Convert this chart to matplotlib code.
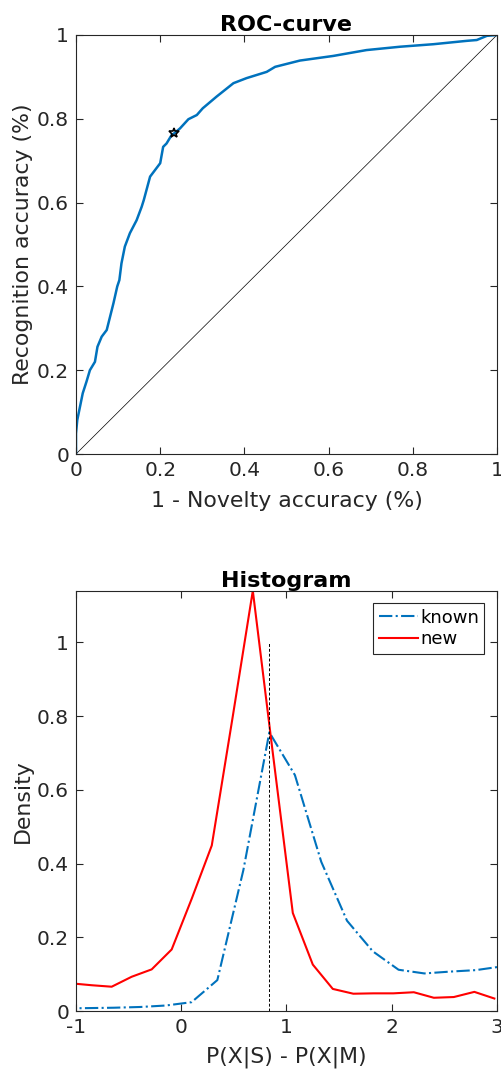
import matplotlib
matplotlib.use('Agg')
import matplotlib.pyplot as plt
from matplotlib.ticker import FuncFormatter

# ROC curve (false alarm rate vs recognition rate)
roc_fpr = [0.0, 0.0, 0.003, 0.0095, 0.016, 0.025, 0.033, 0.045, 0.051, 0.061, 0.073,
           0.089, 0.098, 0.103, 0.108, 0.116, 0.128, 0.144, 0.156, 0.161, 0.176,
           0.2, 0.207, 0.215, 0.227, 0.233, 0.247, 0.267, 0.287, 0.301, 0.334,
           0.374, 0.405, 0.453, 0.473, 0.532, 0.611, 0.69, 0.77, 0.849, 0.928,
           0.952, 0.976, 1.0]
roc_tpr = [0.0, 0.049, 0.081, 0.113, 0.145, 0.173, 0.2, 0.22, 0.256, 0.28, 0.296,
           0.36, 0.40, 0.415, 0.455, 0.495, 0.527, 0.558, 0.59, 0.606, 0.662,
           0.694, 0.733, 0.741, 0.761, 0.765, 0.777, 0.799, 0.809, 0.825, 0.853,
           0.885, 0.897, 0.912, 0.924, 0.939, 0.95, 0.964, 0.972, 0.978, 0.986,
           0.988, 0.998, 1.0]
op_point = (0.233, 0.765)

# histogram densities
known_x = [-1.125, -0.88, -0.64, -0.39, -0.147, 0.098, 0.343, 0.59, 0.837, 1.08,
           1.33, 1.575, 1.82, 2.065, 2.31, 2.555, 2.80, 3.045]
known_y = [0.007, 0.008, 0.009, 0.011, 0.015, 0.024, 0.084, 0.382, 0.756, 0.64,
           0.405, 0.245, 0.162, 0.112, 0.102, 0.107, 0.111, 0.121]
new_x = [-1.04, -0.851, -0.661, -0.471, -0.281, -0.091, 0.1, 0.29, 0.49, 0.68, 0.87,
         1.06, 1.25, 1.44, 1.635, 1.825, 2.015, 2.21, 2.40, 2.59, 2.785, 2.975]
new_y = [0.075, 0.070, 0.066, 0.093, 0.113, 0.167, 0.305, 0.449, 0.80, 1.14, 0.70,
         0.266, 0.126, 0.060, 0.047, 0.048, 0.048, 0.051, 0.036, 0.038, 0.052, 0.034]
threshold = 0.837

BLUE = '#0072BD'
AX_COL = '#262626'

plt.rcParams['font.family'] = 'DejaVu Sans'

fig = plt.figure(figsize=(5.02, 10.7), dpi=100)
ax1 = fig.add_axes([0.1514, 0.5757, 0.8386, 0.3916])
ax2 = fig.add_axes([0.1514, 0.0551, 0.8386, 0.3928])

fmt = FuncFormatter(lambda v, p: '%g' % round(v, 6))


def style(ax):
    for s in ax.spines.values():
        s.set_color(AX_COL)
        s.set_linewidth(0.8)
    ax.tick_params(direction='in', length=5, width=0.8, top=True, right=True,
                   colors=AX_COL, labelsize=14.5, pad=5)
    ax.xaxis.set_major_formatter(fmt)
    ax.yaxis.set_major_formatter(fmt)


# 1. ROC CURVE
ax1.plot([0, 1], [0, 1], color='black', linewidth=0.5)
ax1.plot(roc_fpr, roc_tpr, color=BLUE, linewidth=1.8)
ax1.plot(*op_point, marker='*', color='black', markersize=7, markerfacecolor='none',
         markeredgewidth=1.2)
ax1.set_xlim(0, 1)
ax1.set_ylim(0, 1)
ax1.set_xticks([0, 0.2, 0.4, 0.6, 0.8, 1])
ax1.set_yticks([0, 0.2, 0.4, 0.6, 0.8, 1])
ax1.set_title('ROC-curve', fontsize=16, fontweight='bold', pad=3)
ax1.set_xlabel('1 - Novelty accuracy (%)', fontsize=15.8, color=AX_COL, labelpad=8)
ax1.set_ylabel('Recognition accuracy (%)', fontsize=15.8, color=AX_COL, labelpad=3)
style(ax1)

# 2. HISTOGRAM
ax2.plot(known_x, known_y, color=BLUE, linestyle='-.', linewidth=1.5, label='known')
ax2.plot(new_x, new_y, color='red', linestyle='-', linewidth=1.5, label='new')
ax2.plot([threshold, threshold], [0, 1], color='black', linestyle=(0, (3, 2)),
         linewidth=0.7)
ax2.set_xlim(-1, 3)
ax2.set_ylim(0, max(new_y))
ax2.set_xticks([-1, 0, 1, 2, 3])
ax2.set_yticks([0, 0.2, 0.4, 0.6, 0.8, 1])
ax2.set_title('Histogram', fontsize=16, fontweight='bold', pad=3)
ax2.set_xlabel('P(X|S) - P(X|M)', fontsize=15.8, color=AX_COL, labelpad=7)
ax2.set_ylabel('Density', fontsize=15.8, color=AX_COL, labelpad=3)
leg = ax2.legend(loc='upper right', fontsize=13, fancybox=False, framealpha=1,
                 edgecolor=AX_COL, handlelength=2.2, handletextpad=0.1,
                 borderpad=0.3, labelspacing=0.2, borderaxespad=0.7)
leg.get_frame().set_linewidth(0.8)
style(ax2)

fig.savefig('out.png', dpi=100)
